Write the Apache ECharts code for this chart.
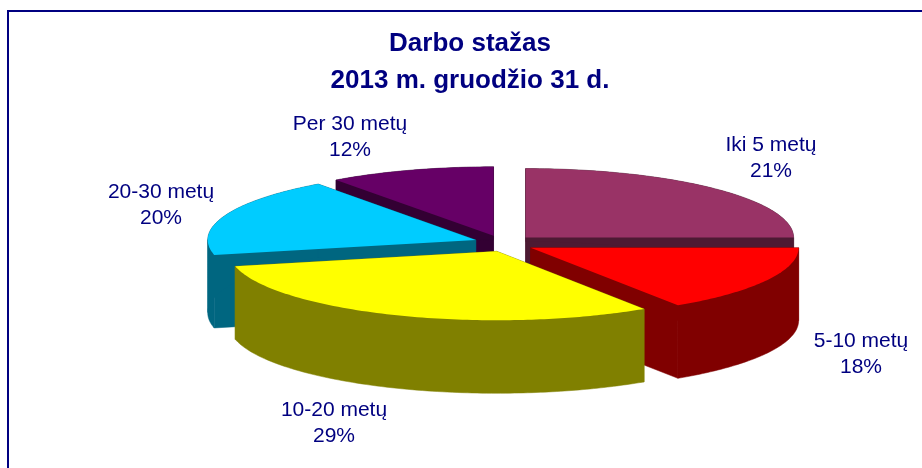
<!DOCTYPE html>
<html>
<head>
<meta charset="utf-8">
<title>Darbo stažas</title>
<script src="https://cdn.jsdelivr.net/npm/echarts@6/dist/echarts.min.js"></script>
<style>
  html, body { margin: 0; padding: 0; background: #fff; }
  #chart { width: 922px; height: 468px; }
</style>
</head>
<body>
<div id="chart"></div>
<script>
// duomenys
const categories = ['Iki 5 metų', '5-10 metų', '10-20 metų', '20-30 metų', 'Per 30 metų']
const shares = [21, 18, 29, 20, 12]
const topColors = ['#993366', '#ff0000', '#ffff00', '#00ccff', '#660066']

// etikečių centrai (px)
const labelPos = [[771, 158], [861, 354], [334, 423], [161, 205], [350, 137]]

const NAVY = '#000080'
const FONT = '"Liberation Sans", Arial, sans-serif'
// pseudo 3D pyrago geometrija
const CX = 504, CY = 243.4, RX = 268, RY = 69, DEPTH = 73, EXPLODE = 0.117
const SKEW = 15.4 * Math.PI / 180

function warp (a) {
  const s = Math.sin(a)
  return a + SKEW * s * s
}
function pt (a, r, ox, oy) {
  const t = warp(a)
  return [ox + r * RX * Math.sin(t), oy - r * RY * Math.cos(t)]
}
function down (p) {
  return [p[0], p[1] + DEPTH]
}
function darken (hex) {
  const n = parseInt(hex.slice(1), 16)
  const c = [(n >> 16) & 255, (n >> 8) & 255, n & 255].map(v => Math.round(v * 0.5))
  return 'rgb(' + c.join(',') + ')'
}
// lanką skaidom ten, kur keičiasi x kryptis
function splitArc (arc) {
  const parts = []
  let cur = [arc[0]]
  let dir = 0
  for (let k = 1; k < arc.length; k++) {
    const d = Math.sign(arc[k][0] - arc[k - 1][0])
    if (dir !== 0 && d !== 0 && d !== dir) {
      parts.push(cur)
      cur = [arc[k - 1]]
    }
    if (d !== 0) dir = d
    cur.push(arc[k])
  }
  parts.push(cur)
  return parts
}

const total = shares.reduce((a, b) => a + b, 0)
let acc = 0
const seriesData = shares.map((v, i) => {
  const start = acc / total
  acc += v
  return { name: categories[i], value: [v, start, acc / total] }
})

function renderItem (params, api) {
  const i = params.dataIndex
  const v = api.value(0)
  const a0 = api.value(1) * Math.PI * 2
  const a1 = api.value(2) * Math.PI * 2
  const mid = (a0 + a1) / 2
  const apex = pt(mid, EXPLODE, CX, CY)
  const arc = []
  const steps = Math.max(8, Math.ceil((a1 - a0) / (Math.PI / 180)))
  for (let k = 0; k <= steps; k++) {
    arc.push(pt(a0 + (a1 - a0) * k / steps, 1, apex[0], apex[1]))
  }
  // priekiniai gabalai piešiami vėliau
  const rank = Math.round((1 - Math.cos(warp(mid))) * 100)
  const color = topColors[i]
  const side = darken(color)
  const sideStyle = { fill: side, stroke: side, lineWidth: 0.5 }
  const first = arc[0]
  const last = arc[arc.length - 1]
  const children = [
    {
      type: 'polygon',
      z2: rank * 10,
      shape: { points: [apex, first, down(first), down(apex)] },
      style: sideStyle
    },
    {
      type: 'polygon',
      z2: rank * 10,
      shape: { points: [apex, last, down(last), down(apex)] },
      style: sideStyle
    }
  ]
  splitArc(arc).forEach(part => {
    children.push({
      type: 'polygon',
      z2: rank * 10 + 1,
      shape: { points: part.concat(part.slice().reverse().map(down)) },
      style: sideStyle
    })
  })
  children.push({
    type: 'polygon',
    z2: rank * 10 + 5,
    shape: { points: [apex].concat(arc) },
    style: { fill: color }
  })
  children.push({
    type: 'text',
    z2: 10000,
    style: {
      text: categories[i] + '\n' + v + '%',
      x: labelPos[i][0],
      y: labelPos[i][1],
      align: 'center',
      verticalAlign: 'middle',
      fontSize: 21,
      lineHeight: 26,
      fontFamily: FONT,
      fill: NAVY
    }
  })
  return { type: 'group', children }
}

const myChart = echarts.init(document.getElementById('chart'))
const option = {
  animation: false,
  title: {
    text: 'Darbo stažas\n2013 m. gruodžio 31 d.',
    left: 470,
    top: 25,
    padding: 0,
    textAlign: 'center',
    textStyle: {
      color: NAVY,
      fontSize: 26,
      fontWeight: 'bold',
      fontFamily: FONT,
      lineHeight: 37
    }
  },
  graphic: [{
    type: 'rect',
    silent: true,
    shape: { x: 8, y: 11, width: 1000, height: 1000 },
    style: { fill: 'none', stroke: NAVY, lineWidth: 2 }
  }],
  series: [{
    type: 'custom',
    coordinateSystem: 'none',
    renderItem: renderItem,
    data: seriesData
  }]
}
myChart.setOption(option)
</script>
</body>
</html>
